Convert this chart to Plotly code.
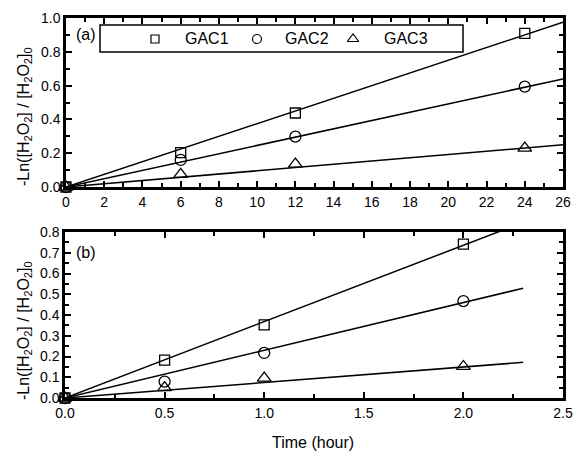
import plotly.graph_objects as go

W, H = 573, 452
FONT = "Liberation Sans, Arial, sans-serif"

# Panel (a): long-time data (hours)
t_a = [0, 6, 12, 24]
gac1_a = [0.0, 0.203, 0.438, 0.909]
gac2_a = [0.0, 0.160, 0.298, 0.594]
gac3_a = [0.0, 0.075, 0.135, 0.230]
slope_a = [0.0375, 0.0246, 0.0096]
fit_a_x = [0, 26]

# Panel (b): short-time data (hours)
t_b = [0, 0.5, 1.0, 2.0]
gac1_b = [0.0, 0.183, 0.352, 0.742]
gac2_b = [0.0, 0.079, 0.217, 0.467]
gac3_b = [0.0, 0.050, 0.096, 0.152]
slope_b = [0.368, 0.230, 0.0747]
fit_b_x = [0, 2.3]

names = ["GAC1", "GAC2", "GAC3"]
symbols = ["square-open", "circle-open", "triangle-up-open"]
sizes = [10, 11, 12]

def px_x(p):
    return p / W

def px_y(p):
    return 1 - p / H

fig = go.Figure()

series_a = [gac1_a, gac2_a, gac3_a]
series_b = [gac1_b, gac2_b, gac3_b]

for i in range(3):
    # fitted lines
    fig.add_trace(go.Scatter(x=fit_a_x, y=[slope_a[i] * v for v in fit_a_x],
                             mode="lines", line=dict(color="black", width=1.5),
                             xaxis="x", yaxis="y", showlegend=False, hoverinfo="skip"))
    fig.add_trace(go.Scatter(x=fit_b_x, y=[slope_b[i] * v for v in fit_b_x],
                             mode="lines", line=dict(color="black", width=1.5),
                             xaxis="x2", yaxis="y2", showlegend=False, hoverinfo="skip"))
for i in range(3):
    fig.add_trace(go.Scatter(x=t_a, y=series_a[i], mode="markers", name=names[i],
                             marker=dict(symbol=symbols[i], size=sizes[i], color="black",
                                         line=dict(width=1.3, color="black")),
                             xaxis="x", yaxis="y", showlegend=False, cliponaxis=False))
    fig.add_trace(go.Scatter(x=t_b, y=series_b[i], mode="markers", name=names[i],
                             marker=dict(symbol=symbols[i], size=sizes[i], color="black",
                                         line=dict(width=1.3, color="black")),
                             xaxis="x2", yaxis="y2", showlegend=False, cliponaxis=False))

# Legend symbols on an overlay axis spanning the page in pixel units
leg_sym_x = [155, 257, 353]
leg_y = 39
for i in range(3):
    fig.add_trace(go.Scatter(x=[leg_sym_x[i]], y=[H - leg_y], mode="markers",
                             marker=dict(symbol=symbols[i], size=[8, 9, 10][i], color="black",
                                         line=dict(width=1.2, color="black")),
                             xaxis="x3", yaxis="y3", showlegend=False, hoverinfo="skip"))

tickfont = dict(family=FONT, size=14, color="black")
common = dict(showline=True, linewidth=2.5, linecolor="black", mirror="ticks",
              ticks="inside", ticklen=6, tickwidth=2, tickcolor="black",
              showgrid=False, zeroline=False, tickfont=tickfont, automargin=False)

fig.update_layout(
    width=W, height=H,
    margin=dict(l=0, r=0, t=0, b=0, autoexpand=False),
    paper_bgcolor="white", plot_bgcolor="rgba(0,0,0,0)",
    xaxis=dict(domain=[px_x(66), px_x(563)], range=[0, 26], dtick=2, anchor="y",
               minor=dict(ticks="inside", ticklen=4, dtick=1, tickwidth=1.5, tickcolor="black"),
               **common),
    yaxis=dict(domain=[px_y(187), px_y(18)], range=[0, 1.0], dtick=0.2, tickformat=".1f",
               anchor="x",
               minor=dict(ticks="inside", ticklen=4, dtick=0.1, tickwidth=1.5, tickcolor="black"),
               **common),
    xaxis2=dict(domain=[px_x(65), px_x(563)], range=[0, 2.5], dtick=0.5, tickformat=".1f",
                anchor="y2",
                minor=dict(ticks="inside", ticklen=4, dtick=0.25, tickwidth=1.5, tickcolor="black"),
                **common),
    yaxis2=dict(domain=[px_y(398), px_y(232)], range=[0, 0.8], dtick=0.1, tickformat=".1f",
                anchor="x2",
                minor=dict(ticks="inside", ticklen=4, dtick=0.05, tickwidth=1.5, tickcolor="black"),
                **common),
    xaxis3=dict(domain=[0, 1], range=[0, W], visible=False, anchor="y3",
                fixedrange=True, automargin=False),
    yaxis3=dict(domain=[0, 1], range=[0, H], visible=False, anchor="x3",
                fixedrange=True, automargin=False),
)

def label(x, y, text, xanchor="center", angle=0):
    fig.add_annotation(x=px_x(x), y=px_y(y), xref="paper", yref="paper", text=text,
                       xanchor=xanchor, yanchor="middle", textangle=angle, showarrow=False,
                       font=dict(family=FONT, size=16, color="black"))

ytitle = "-Ln([H<sub>2</sub>O<sub>2</sub>] / [H<sub>2</sub>O<sub>2</sub>]<sub>0</sub>"
label(24, 117, ytitle, angle=-90)
label(24, 331, ytitle, angle=-90)
label(313, 442, "Time (hour)")
label(74, 35, "(a)", xanchor="left")
label(74, 252, "(b)", xanchor="left")

# Legend box and labels
fig.add_shape(type="rect", xref="paper", yref="paper",
              x0=px_x(100), x1=px_x(463), y0=px_y(52), y1=px_y(25),
              line=dict(color="black", width=1.5), fillcolor="white", layer="below")
leg_txt_x = [183, 283, 382]
for i in range(3):
    label(leg_txt_x[i], leg_y, names[i], xanchor="left")

fig.write_html("out.html")
